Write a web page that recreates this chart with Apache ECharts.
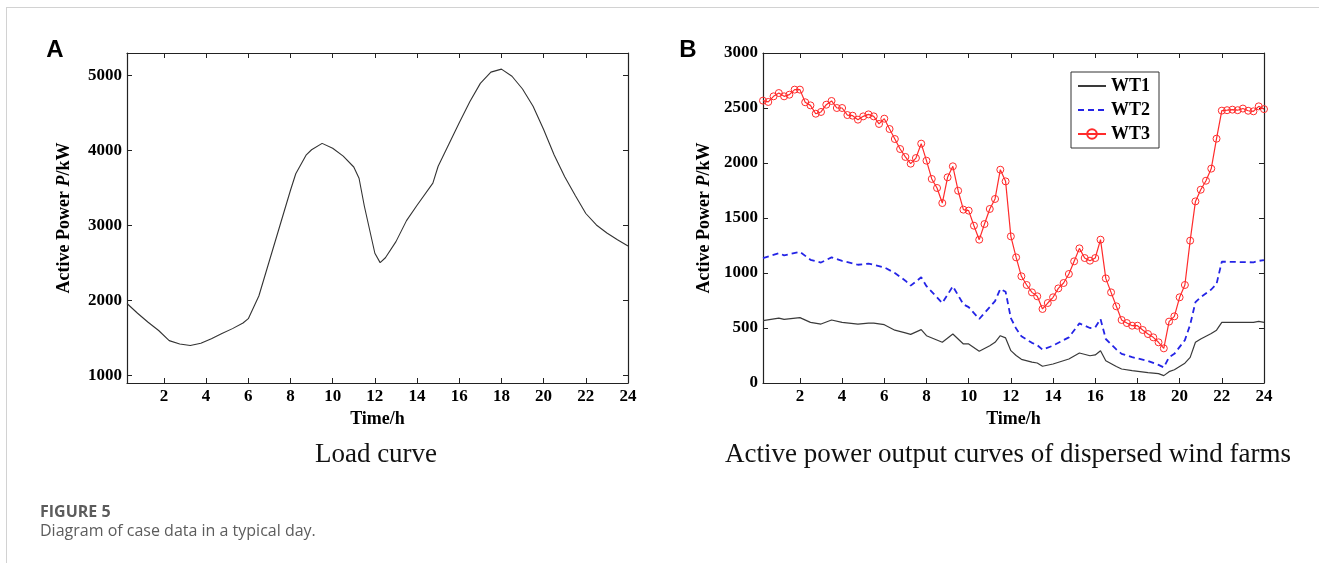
<!DOCTYPE html>
<html>
<head>
<meta charset="utf-8">
<script src="https://cdn.jsdelivr.net/npm/echarts@6/dist/echarts.min.js"></script>
<style>
html, body {margin: 0; padding: 0; background: #fff;}
#frame {position: absolute; left: 6px; top: 7px; width: 1313px; height: 556px; border-left: 1px solid #d2d2d2; border-top: 1px solid #d2d2d2;}
#chart {position: absolute; left: 0; top: 0; width: 1319px; height: 563px;}
</style>
</head>
<body>
<div id="frame"></div>
<div id="chart"></div>
<script>
// load curve (A)
var loadTime = [0.25, 0.75, 1.25, 1.75, 2.25, 2.75, 3.25, 3.75, 4.25, 4.75,
    5.25, 5.75, 6, 6.5, 7, 7.5, 8, 8.25, 8.75, 9,
    9.5, 10, 10.5, 11, 11.25, 11.5, 12, 12.25, 12.5, 13,
    13.5, 14, 14.75, 15, 15.5, 16, 16.5, 17, 17.5, 18,
    18.5, 19, 19.5, 20, 20.5, 21, 21.5, 22, 22.5, 23,
    23.5, 24];
var loadValue = [1960, 1830, 1710, 1600, 1465, 1420, 1400, 1430, 1490, 1560,
    1625, 1700, 1758, 2060, 2530, 3000, 3470, 3690, 3943, 4010,
    4095, 4030, 3925, 3780, 3630, 3260, 2630, 2505, 2570, 2785,
    3065, 3270, 3565, 3790, 4080, 4370, 4650, 4895, 5045, 5085,
    4990, 4820, 4590, 4280, 3940, 3650, 3400, 3160, 3007, 2900,
    2810, 2726];

// wind farms (B), WT3 every 15 min
var wt3Time = [0.25, 0.5, 0.75, 1, 1.25, 1.5, 1.75, 2, 2.25, 2.5, 2.75, 3,
    3.25, 3.5, 3.75, 4, 4.25, 4.5, 4.75, 5, 5.25, 5.5, 5.75, 6,
    6.25, 6.5, 6.75, 7, 7.25, 7.5, 7.75, 8, 8.25, 8.5, 8.75, 9,
    9.25, 9.5, 9.75, 10, 10.25, 10.5, 10.75, 11, 11.25, 11.5, 11.75, 12,
    12.25, 12.5, 12.75, 13, 13.25, 13.5, 13.75, 14, 14.25, 14.5, 14.75, 15,
    15.25, 15.5, 15.75, 16, 16.25, 16.5, 16.75, 17, 17.25, 17.5, 17.75, 18,
    18.25, 18.5, 18.75, 19, 19.25, 19.5, 19.75, 20, 20.25, 20.5, 20.75, 21,
    21.25, 21.5, 21.75, 22, 22.25, 22.5, 22.75, 23, 23.25, 23.5, 23.75, 24];
var wt3 = [2567, 2555, 2606, 2636, 2606, 2621, 2667, 2667, 2552, 2524, 2448, 2464,
    2530, 2564, 2500, 2500, 2436, 2430, 2394, 2424, 2442, 2424, 2355, 2403,
    2309, 2218, 2127, 2055, 1994, 2045, 2176, 2021, 1855, 1773, 1636, 1870,
    1970, 1748, 1576, 1567, 1430, 1303, 1445, 1582, 1673, 1939, 1833, 1333,
    1142, 970, 891, 824, 788, 673, 727, 779, 860, 909, 991, 1106,
    1224, 1136, 1112, 1136, 1303, 951, 824, 697, 573, 545, 521, 521,
    482, 445, 415, 370, 315, 558, 606, 779, 891, 1294, 1651, 1757,
    1839, 1949, 2221, 2476, 2480, 2485, 2480, 2495, 2475, 2470, 2515, 2490];

var lowTime = [0.25, 1, 1.25, 2, 2.5, 3, 3.5, 4, 4.75, 5.25,
    5.5, 6, 6.5, 7, 7.25, 7.75, 8, 8.75, 9.25, 9.75,
    10, 10.5, 11, 11.25, 11.5, 11.75, 12, 12.25, 12.5, 13,
    13.25, 13.5, 14, 14.75, 15.25, 15.75, 16, 16.25, 16.5, 17,
    17.25, 17.75, 18.5, 19, 19.25, 19.5, 19.75, 20.25, 20.5, 20.75,
    21, 21.5, 21.75, 22, 23.5, 23.75, 24];
var wt2 = [1136, 1180, 1160, 1192, 1120, 1095, 1142, 1110, 1075, 1085,
    1075, 1051, 1000, 930, 885, 961, 880, 727, 879, 715,
    690, 582, 690, 745, 855, 830, 590, 495, 425, 365,
    345, 303, 340, 415, 542, 500, 505, 582, 400, 305,
    265, 235, 200, 165, 142, 235, 265, 390, 530, 735,
    780, 850, 900, 1103, 1097, 1110, 1118];
var wt1 = [567, 590, 578, 594, 551, 536, 573, 551, 536, 545,
    545, 530, 480, 455, 442, 485, 430, 370, 445, 355,
    355, 288, 339, 370, 430, 410, 294, 250, 215, 190,
    182, 152, 173, 218, 273, 248, 255, 294, 203, 150,
    127, 112, 95, 85, 67, 103, 121, 180, 233, 370,
    400, 450, 480, 551, 551, 561, 551];

var hourTicks = [2, 4, 6, 8, 10, 12, 14, 16, 18, 20, 22, 24];
var loadTicks = [1000, 2000, 3000, 4000, 5000];

var serif = '"Liberation Serif", "Times New Roman", serif';
var axisColor = '#222';

function pairs(xs, ys) {
    return xs.map(function (x, i) { return [x, ys[i]]; });
}

function plain(v) {
    return String(v);
}

function timeAxis(g, pos) {
    var main = pos == 'bottom';
    return {
        type: 'value', gridIndex: g, position: pos, min: 0.25, max: 24,
        axisLine: {show: true, onZero: false, lineStyle: {color: axisColor, width: 1.2}},
        axisTick: {show: true, inside: true, length: 5, customValues: hourTicks, lineStyle: {color: axisColor}},
        axisLabel: {show: main, customValues: hourTicks, margin: 5, color: '#000', formatter: plain,
            fontFamily: serif, fontWeight: 'bold', fontSize: 17},
        splitLine: {show: false},
        name: main ? 'Time/h' : '', nameLocation: 'middle', nameGap: 24,
        nameTextStyle: {color: '#000', fontFamily: serif, fontWeight: 'bold', fontSize: 18}
    };
}

function powerAxis(g, pos, range, ticks, gap) {
    var main = pos == 'left';
    var ax = {
        type: 'value', gridIndex: g, position: pos, min: range[0], max: range[1],
        axisLine: {show: true, onZero: false, lineStyle: {color: axisColor, width: 1.2}},
        axisTick: {show: true, inside: true, length: 5, lineStyle: {color: axisColor}},
        axisLabel: {show: main, margin: 5, color: '#000', formatter: plain,
            fontFamily: serif, fontWeight: 'bold', fontSize: 17},
        splitLine: {show: false},
        name: main ? 'Active Power {i|P}/kW' : '', nameLocation: 'middle', nameGap: gap || 50,
        nameTextStyle: {color: '#000', fontFamily: serif, fontWeight: 'bold', fontSize: 18,
            rich: {i: {fontStyle: 'italic', fontFamily: serif, fontWeight: 'bold', fontSize: 18, color: '#000'}}}
    };
    if (ticks) {
        ax.axisTick.customValues = ticks;
        ax.axisLabel.customValues = ticks;
    } else {
        ax.interval = 500;
    }
    return ax;
}

var chart = echarts.init(document.getElementById('chart'));

chart.setOption({
    animation: false,
    backgroundColor: 'transparent',
    grid: [
        {left: 127, top: 53, width: 501, height: 330},
        {left: 763, top: 53, width: 501, height: 330}
    ],
    xAxis: [timeAxis(0, 'bottom'), timeAxis(0, 'top'), timeAxis(1, 'bottom'), timeAxis(1, 'top')],
    yAxis: [
        powerAxis(0, 'left', [900, 5300], loadTicks, 54),
        powerAxis(0, 'right', [900, 5300], loadTicks),
        powerAxis(1, 'left', [0, 3000], null, 50),
        powerAxis(1, 'right', [0, 3000])
    ],
    legend: {
        data: [
            {name: 'WT1', itemStyle: {opacity: 0}},
            {name: 'WT2', itemStyle: {opacity: 0}},
            {name: 'WT3'}
        ],
        orient: 'vertical', left: 1071, top: 72,
        backgroundColor: '#fff', borderColor: '#333', borderWidth: 1,
        padding: [5, 9, 5, 6], itemGap: 6, itemWidth: 28, itemHeight: 12,
        textStyle: {color: '#000', fontFamily: serif, fontWeight: 'bold', fontSize: 18, lineHeight: 18}
    },
    series: [
        {
            name: 'Load', type: 'line', xAxisIndex: 0, yAxisIndex: 0,
            data: pairs(loadTime, loadValue), symbol: 'none',
            lineStyle: {color: '#333', width: 1.1}
        },
        {
            name: 'WT1', type: 'line', xAxisIndex: 2, yAxisIndex: 2,
            data: pairs(lowTime, wt1), symbol: 'none',
            itemStyle: {color: '#3a3a3a'},
            lineStyle: {color: '#3a3a3a', width: 1.2}
        },
        {
            name: 'WT2', type: 'line', xAxisIndex: 2, yAxisIndex: 2,
            data: pairs(lowTime, wt2), symbol: 'none',
            itemStyle: {color: '#2424e6'},
            lineStyle: {color: '#2424e6', width: 1.8, type: [6, 4]}
        },
        {
            name: 'WT3', type: 'line', xAxisIndex: 2, yAxisIndex: 2,
            data: pairs(wt3Time, wt3), symbol: 'circle', symbolSize: 7, showSymbol: true,
            itemStyle: {color: 'rgba(255,255,255,0)', borderColor: '#ff2b2b', borderWidth: 1},
            lineStyle: {color: '#ff2b2b', width: 1.2}
        }
    ],
    graphic: [
        {type: 'text', x: 55, y: 50, style: {text: 'A', align: 'center', verticalAlign: 'middle',
            font: 'bold 24px "Liberation Sans", Arial, sans-serif', fill: '#000'}},
        {type: 'text', x: 688, y: 50, style: {text: 'B', align: 'center', verticalAlign: 'middle',
            font: 'bold 24px "Liberation Sans", Arial, sans-serif', fill: '#000'}},
        {type: 'text', x: 376, y: 455, style: {text: 'Load curve', align: 'center', verticalAlign: 'middle',
            font: '27px ' + serif, fill: '#111'}},
        {type: 'text', x: 1008, y: 455, style: {text: 'Active power output curves of dispersed wind farms',
            align: 'center', verticalAlign: 'middle', font: '27px ' + serif, fill: '#111'}},
        {type: 'text', x: 40, y: 512, style: {text: 'FIGURE 5', align: 'left', verticalAlign: 'middle',
            font: 'bold 16px "Open Sans", "Noto Sans", sans-serif', fill: '#5c5c5c'}},
        {type: 'text', x: 40, y: 531, style: {text: 'Diagram of case data in a typical day.', align: 'left',
            verticalAlign: 'middle', font: '16px "Open Sans", "Noto Sans", sans-serif', fill: '#5c5c5c'}}
    ]
});
</script>
</body>
</html>
